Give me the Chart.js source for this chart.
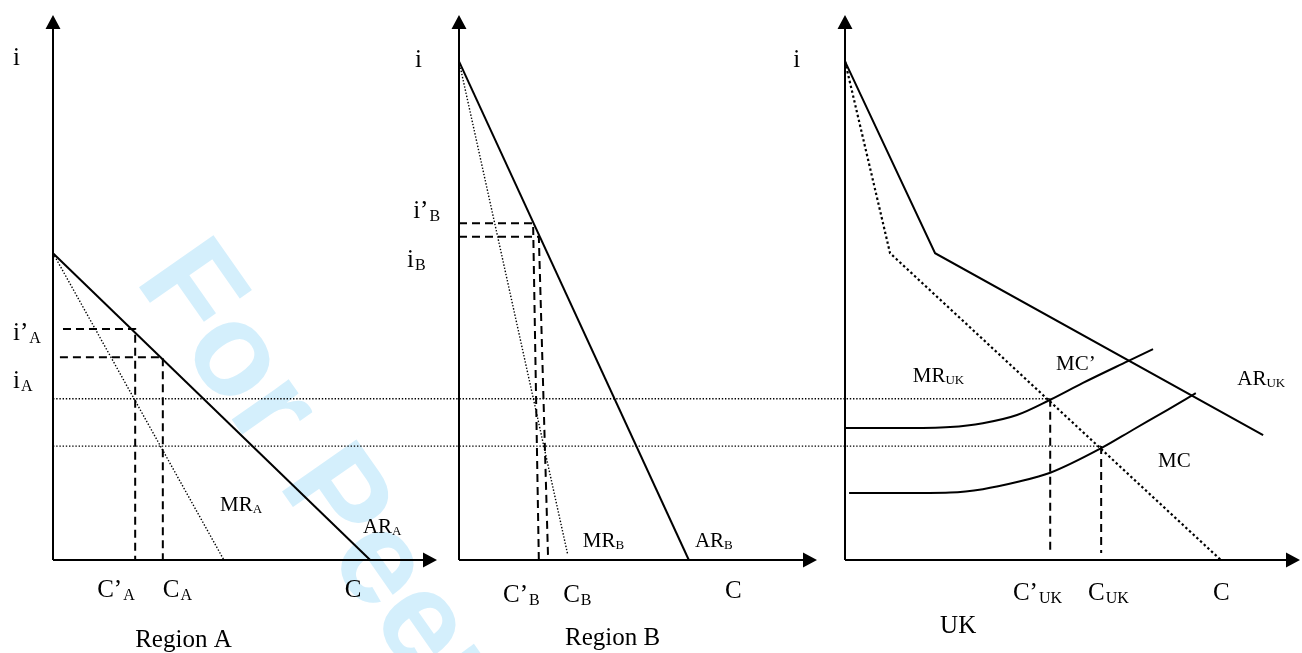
<!DOCTYPE html>
<html>
<head>
<meta charset="utf-8">
<script src="https://cdn.jsdelivr.net/npm/chart.js@4"></script>
<style>
  html, body { margin: 0; padding: 0; background: #fff; }
  #wrap { width: 1302px; height: 653px; }
</style>
</head>
<body>
<div id="wrap"><canvas id="diagram" width="1302" height="653"></canvas></div>
<script>
// Every panel: x = quantity C (0-100 to the arrow tip), y = interest rate i (0-100 to the arrow tip)

// Region A
const arA = [{x: 0, y: 56.3}, {x: 82.6, y: 0}];
const mrA = [{x: 0, y: 56.3}, {x: 44.5, y: 0}];
const iPrimeA = 42.4, iA = 37.2;
const cPrimeA = 21.4, cA = 28.6;

// Region B
const arB = [{x: 0, y: 91.5}, {x: 64.2, y: 0}];
const mrB = [{x: 0, y: 91.5}, {x: 30.4, y: 0.9}];
const iPrimeB = 61.8, iB = 59.3;
const cPrimeB = [20.7, 22.3];   // drop line top / bottom
const cB = [22.3, 24.9];

// UK
const arUK = [{x: 0, y: 91.5}, {x: 19.8, y: 56.3}, {x: 91.9, y: 22.9}];
const mrUK = [{x: 0, y: 91.5}, {x: 9.9, y: 56.3}, {x: 82.6, y: 0}];
const mcPrime = [
  {x: 0, y: 24.2}, {x: 12.1, y: 24.2}, {x: 23.1, y: 24.4}, {x: 30.3, y: 25.1},
  {x: 37.8, y: 26.6}, {x: 45.1, y: 29.4}, {x: 52.3, y: 32.5}, {x: 62.2, y: 36.5}, {x: 67.7, y: 38.7}
];
const mc = [
  {x: 0.9, y: 12.3}, {x: 12.1, y: 12.3}, {x: 23.1, y: 12.4}, {x: 30.3, y: 13.0},
  {x: 37.8, y: 14.3}, {x: 45.1, y: 16.0}, {x: 56.5, y: 20.6}, {x: 63.3, y: 23.9},
  {x: 70.8, y: 27.5}, {x: 77.1, y: 30.6}
];
const cPrimeUK = 45.1, cUK = 56.3;
const iHigh = 29.6, iLow = 20.9;   // dotted guides running across all panels
const dropEnd = 1.3;

// text: [panel axis, x, i, main, subscript, small]
const labels = [
  ['xA', -10.4, 90.8, 'i', '', false],
  ['xA', -10.4, 40.4, 'i\u2019', 'A', false],
  ['xA', -10.4, 31.6, 'i', 'A', false],
  ['xA', 11.5, -6.8, 'C\u2019', 'A', false],
  ['xA', 28.6, -6.8, 'C', 'A', false],
  ['xA', 76.0, -6.8, 'C', '', false],
  ['xA', 21.4, -16.0, 'Region A', '', false],
  ['xA', 43.5, 9.0, 'MR', 'A', true],
  ['xA', 80.7, 5.0, 'AR', 'A', true],
  ['xB', -12.3, 90.5, 'i', '', false],
  ['xB', -12.8, 62.8, 'i\u2019', 'B', false],
  ['xB', -14.5, 53.8, 'i', 'B', false],
  ['xB', 34.6, 2.4, 'MR', 'B', true],
  ['xB', 65.9, 2.4, 'AR', 'B', true],
  ['xB', 12.3, -7.7, 'C\u2019', 'B', false],
  ['xB', 29.1, -7.7, 'C', 'B', false],
  ['xB', 74.3, -7.0, 'C', '', false],
  ['xB', 29.6, -15.6, 'Region B', '', false],
  ['xC', -11.4, 90.5, 'i', '', false],
  ['xC', 14.9, 32.7, 'MR', 'UK', true],
  ['xC', 46.4, 34.9, 'MC\u2019', '', true],
  ['xC', 86.2, 32.1, 'AR', 'UK', true],
  ['xC', 68.8, 17.1, 'MC', '', true],
  ['xC', 36.9, -7.3, 'C\u2019', 'UK', false],
  ['xC', 53.4, -7.3, 'C', 'UK', false],
  ['xC', 80.9, -7.3, 'C', '', false],
  ['xC', 20.9, -13.4, 'UK', '', false]
];

const W = 1302;
const SERIF = "'Liberation Serif', 'Times New Roman', serif";

// x scale whose 0..100 lands between two pixel columns of the full-width chart area
function panelScale(left, right) {
  const ppu = (right - left) / 100;
  return { type: 'linear', display: false, min: -left / ppu, max: 100 + (W - right) / ppu };
}

function solid(data, axis) {
  return { data, xAxisID: axis, showLine: true, borderColor: '#000', borderWidth: 2, pointRadius: 0, clip: false };
}
function dotted(data, axis, bold) {
  return { data, xAxisID: axis, showLine: true, borderColor: '#000', borderWidth: bold ? 2.2 : 1.4,
           borderDash: bold ? [2.4, 2.6] : [1.4, 1.8], pointRadius: 0, clip: false };
}
function dashed(data, axis) {
  return { data, xAxisID: axis, showLine: true, borderColor: '#000', borderWidth: 2,
           borderDash: [8, 5], pointRadius: 0, clip: false };
}

const diagramPlugin = {
  id: 'diagram',
  beforeDraw(chart) {
    const ctx = chart.ctx;
    ctx.save();
    ctx.translate(134, 280);
    ctx.rotate(55 * Math.PI / 180);
    ctx.fillStyle = '#d4effc';
    ctx.font = "bold 132px 'Liberation Sans', Arial, sans-serif";
    ctx.textBaseline = 'alphabetic';
    ctx.fillText('For Peer Review', 0, 0);
    ctx.restore();
  },
  beforeDatasetsDraw(chart) {
    const ctx = chart.ctx, y = chart.scales.y;
    ctx.save();
    // dotted guides from Region A's axis to the UK marginal cost curves
    ctx.strokeStyle = '#000';
    ctx.lineWidth = 1.4;
    ctx.setLineDash([1.4, 1.8]);
    const x0 = chart.scales.xA.getPixelForValue(0);
    [[iHigh, cPrimeUK], [iLow, cUK]].forEach(([lvl, q]) => {
      const py = y.getPixelForValue(lvl);
      ctx.beginPath();
      ctx.moveTo(x0, py);
      ctx.lineTo(chart.scales.xC.getPixelForValue(q), py);
      ctx.stroke();
    });
    ctx.setLineDash([]);
    // axes with arrow heads
    ctx.lineWidth = 2;
    ctx.fillStyle = '#000';
    ['xA', 'xB', 'xC'].forEach(id => {
      const xs = chart.scales[id];
      const ox = xs.getPixelForValue(0), oy = y.getPixelForValue(0);
      const tx = xs.getPixelForValue(100), ty = y.getPixelForValue(100);
      ctx.beginPath();
      ctx.moveTo(ox, oy); ctx.lineTo(ox, ty + 12);
      ctx.moveTo(ox, oy); ctx.lineTo(tx - 12, oy);
      ctx.stroke();
      ctx.beginPath();
      ctx.moveTo(ox, ty); ctx.lineTo(ox - 7.5, ty + 14); ctx.lineTo(ox + 7.5, ty + 14); ctx.closePath();
      ctx.moveTo(tx, oy); ctx.lineTo(tx - 14, oy - 7.5); ctx.lineTo(tx - 14, oy + 7.5); ctx.closePath();
      ctx.fill();
    });
    ctx.restore();
  },
  afterDatasetsDraw(chart) {
    const ctx = chart.ctx, y = chart.scales.y;
    ctx.save();
    ctx.fillStyle = '#000';
    ctx.textBaseline = 'alphabetic';
    ctx.textAlign = 'left';
    labels.forEach(([axis, lx, ly, main, sub, small]) => {
      const px = chart.scales[axis].getPixelForValue(lx), py = y.getPixelForValue(ly);
      ctx.font = (small ? 21 : 25) + 'px ' + SERIF;
      ctx.fillText(main, px, py);
      if (sub) {
        const w = ctx.measureText(main).width;
        ctx.font = (small ? 13 : 16) + 'px ' + SERIF;
        ctx.fillText(sub, px + w + (small ? 0 : 1), py + (small ? 2 : 3));
      }
    });
    ctx.restore();
  }
};

new Chart(document.getElementById('diagram'), {
  type: 'scatter',
  data: {
    datasets: [
      // Region A
      solid(arA, 'xA'),
      dotted(mrA, 'xA'),
      dashed([{x: 2.6, y: iPrimeA}, {x: cPrimeA, y: iPrimeA}, {x: cPrimeA, y: 0}], 'xA'),
      dashed([{x: 1.8, y: iA}, {x: cA, y: iA}, {x: cA, y: 0}], 'xA'),
      // Region B
      solid(arB, 'xB'),
      dotted(mrB, 'xB'),
      dashed([{x: 0, y: iPrimeB}, {x: cPrimeB[0], y: iPrimeB}, {x: cPrimeB[1], y: 0}], 'xB'),
      dashed([{x: 0, y: iB}, {x: cB[0], y: iB}, {x: cB[1], y: 0}], 'xB'),
      // UK
      solid(arUK, 'xC'),
      dotted(mrUK, 'xC', true),
      Object.assign(solid(mcPrime, 'xC'), { cubicInterpolationMode: 'monotone' }),
      Object.assign(solid(mc, 'xC'), { cubicInterpolationMode: 'monotone' }),
      dashed([{x: cPrimeUK, y: iHigh}, {x: cPrimeUK, y: dropEnd}], 'xC'),
      dashed([{x: cUK, y: iLow}, {x: cUK, y: dropEnd}], 'xC')
    ]
  },
  options: {
    responsive: false,
    animation: false,
    layout: { padding: { top: 15, bottom: 93, left: 0, right: 0 } },
    plugins: { legend: { display: false }, tooltip: { enabled: false } },
    scales: {
      xA: panelScale(53, 437),
      xB: panelScale(459, 817),
      xC: panelScale(845, 1300),
      y: { type: 'linear', display: false, min: 0, max: 100 }
    }
  },
  plugins: [diagramPlugin]
});
</script>
</body>
</html>
